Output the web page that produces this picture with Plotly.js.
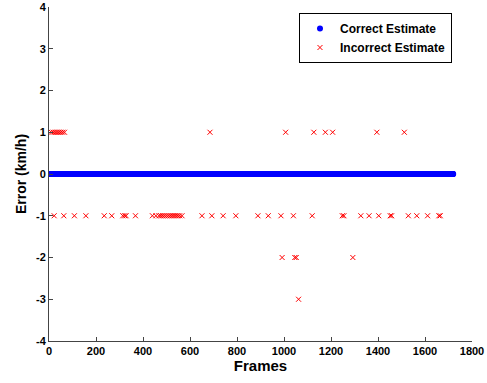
<!DOCTYPE html>
<html>
<head>
<meta charset="utf-8">
<script src="https://cdn.plot.ly/plotly-3.0.1.min.js"></script>
<style>html,body{margin:0;padding:0;background:#fff;}#chart{width:487px;height:383px;}</style>
</head>
<body>
<div id="chart"></div>
<script>
// Total number of frames in the sequence
const totalFrames = 1720;

// Incorrect estimates: frame numbers and their errors (km/h)
const incorrectPlusOneFrames = [10, 18, 26, 34, 42, 50, 58, 66, 685, 1007, 1127, 1176, 1207, 1395, 1512];
const incorrectMinusOneFrames = [22, 63, 108, 157, 235, 267, 314, 322, 328, 368,
  440, 455, 468, 476, 484, 492, 500, 508, 516, 524, 532, 540, 548, 556, 566,
  651, 693, 741, 795, 889, 933, 987, 1040, 1120, 1248, 1255, 1327, 1362, 1403,
  1452, 1458, 1529, 1565, 1611, 1659, 1665];
const incorrectMinusTwoFrames = [992, 1046, 1052, 1293];
const incorrectMinusThreeFrames = [1062];

const xTicks = [0, 200, 400, 600, 800, 1000, 1200, 1400, 1600, 1800];
const yTicks = [-4, -3, -2, -1, 0, 1, 2, 3, 4];

// Build incorrect series
const incX = [], incY = [];
[[incorrectPlusOneFrames, 1], [incorrectMinusOneFrames, -1],
 [incorrectMinusTwoFrames, -2], [incorrectMinusThreeFrames, -3]].forEach(([fr, err]) => {
  fr.forEach(f => { incX.push(f); incY.push(err); });
});

// Correct estimates: every frame with zero error
const incSet = new Set(incX);
const corX = [], corY = [];
for (let f = 1; f <= totalFrames; f++) {
  if (!incSet.has(f)) { corX.push(f); corY.push(0); }
}

const font = {family: '"Liberation Sans", Arial, sans-serif', color: '#000'};

const traces = [
  {x: corX, y: corY, type: 'scatter', mode: 'markers', name: 'Correct Estimate',
   marker: {color: '#0000ff', size: 6}},
  {x: incX, y: incY, type: 'scatter', mode: 'markers', name: 'Incorrect Estimate',
   marker: {symbol: 'x-thin-open', color: '#ff0000', size: 5, line: {color: '#ff0000', width: 1}}}
];

const layout = {
  width: 487, height: 383,
  margin: {l: 49, r: 15, t: 7, b: 42},
  paper_bgcolor: '#fff', plot_bgcolor: '#fff',
  showlegend: true,
  legend: {x: 0.591, y: 0.982, xanchor: 'left', yanchor: 'top',
    bordercolor: '#000', borderwidth: 1, bgcolor: '#fff',
    font: Object.assign({}, font, {size: 12, weight: 'bold'}),
    tracegroupgap: 0},
  xaxis: {range: [0, 1800], tickvals: xTicks, ticktext: xTicks.map(String),
    showgrid: false, zeroline: false, showline: true, linecolor: '#444', linewidth: 1,
    ticks: 'inside', ticklen: 4, tickcolor: '#444',
    tickfont: Object.assign({}, font, {size: 11, weight: 'bold'}),
    title: {text: 'Frames', font: Object.assign({}, font, {size: 15, weight: 'bold'}), standoff: 4}},
  yaxis: {range: [-4, 4], tickvals: yTicks, ticktext: yTicks.map(String),
    showgrid: false, zeroline: false, showline: true, linecolor: '#444', linewidth: 1,
    ticks: 'inside', ticklen: 4, tickcolor: '#444',
    tickfont: Object.assign({}, font, {size: 11, weight: 'bold'}),
    title: {text: 'Error (km/h)', font: Object.assign({}, font, {size: 14, weight: 'bold'}), standoff: 6}}
};

Plotly.newPlot('chart', traces, layout, {displayModeBar: false, staticPlot: true});
</script>
</body>
</html>
